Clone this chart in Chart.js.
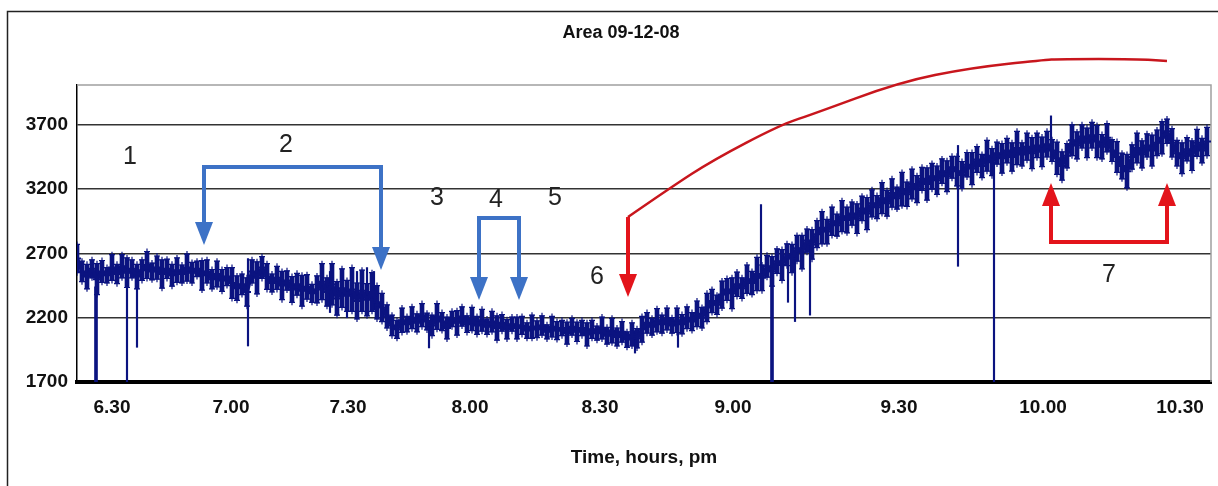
<!DOCTYPE html>
<html>
<head>
<meta charset="utf-8">
<script src="https://cdn.jsdelivr.net/npm/chart.js@4"></script>
<style>
  body { margin: 0; background: #fff; }
</style>
</head>
<body>
<canvas id="areaChart" width="1218" height="486"></canvas>
<script>
// readings are logged samples, one every 5 samples kept here
const step = 5;
const area = [
  2660,2560,2520,2580,2500,2560,2530,2590,2540,2600,2550,2580,2520,2570,2610,2560,2590,2540,2580,2530,
  2570,2540,2590,2550,2580,2530,2560,2500,2540,2490,2520,2470,2430,2460,2400,2560,2510,2590,2520,2470,
  2510,2450,2490,2420,2460,2410,2440,2390,2420,2480,2400,2460,2350,2430,2370,2420,2330,2410,2340,2400,
  2320,2280,2210,2140,2110,2180,2150,2200,2160,2220,2170,2140,2210,2170,2120,2190,2160,2210,2150,2190,
  2140,2180,2130,2170,2120,2160,2110,2150,2120,2140,2100,2130,2110,2140,2090,2130,2100,2120,2080,2130,
  2090,2120,2070,2110,2080,2120,2060,2100,2050,2090,2030,2070,2040,2110,2160,2130,2180,2150,2190,2140,
  2180,2150,2200,2170,2230,2200,2280,2330,2300,2380,2420,2390,2460,2430,2500,2470,2540,2510,2600,2560,
  2640,2610,2690,2660,2740,2710,2800,2770,2850,2900,2870,2950,2920,2990,2960,3010,2970,3050,3010,3090,
  3060,3130,3090,3170,3130,3200,3160,3240,3200,3280,3240,3300,3270,3340,3300,3370,3340,3310,3390,3360,
  3430,3380,3460,3410,3480,3440,3500,3450,3520,3470,3530,3480,3540,3490,3550,3500,3440,3380,3460,3580,
  3540,3610,3560,3620,3570,3530,3600,3500,3450,3380,3340,3450,3520,3470,3540,3500,3560,3600,3650,3560,
  3480,3440,3510,3460,3560,3500,3570
];
// size of the error bar drawn on each reading
const areaErr = [
  110,80,95,70,120,85,60,100,75,90,115,70,95,80,105,65,90,110,75,85,
  95,70,105,80,60,115,90,75,100,85,70,120,95,80,110,90,125,85,100,70,
  90,110,75,100,85,120,95,70,105,140,110,160,130,150,120,170,140,160,125,150,
  130,110,90,80,70,95,60,85,70,90,65,80,100,70,85,60,95,75,65,90,
  70,85,60,80,95,65,75,55,85,70,60,90,65,75,55,80,70,60,85,65,
  75,60,90,70,55,85,65,95,70,80,60,90,75,100,80,65,90,70,85,60,
  95,75,85,70,100,80,110,90,75,105,85,120,95,80,110,90,130,100,85,115,
  95,120,85,110,100,130,90,115,105,125,95,110,85,120,100,90,115,95,125,105,
  90,120,100,110,85,130,95,115,105,90,125,100,110,95,120,85,115,105,95,125,
  100,90,120,105,85,115,95,110,130,90,105,120,95,115,100,85,125,110,95,120,
  105,90,115,100,125,95,110,85,120,100,130,95,115,105,90,120,100,125,95,110,
  100,120,90,115,105,95,110
];

// long error bars / dropouts: sample, low, high
const spikeAt   = [50, 60, 171, 253, 265, 270, 280, 290, 297, 352, 558, 601, 684, 711, 718, 733, 881, 917, 974];
const spikeLow  = [1700,1970,1980,2240,2280,2200,2230,2250,2260,1965,1925,1970,2500,2320,2170,2220,2600,1700,3500];
const spikeHigh = [2500,2500,2660,2560,2580,2460,2560,2590,2560,2180,2100,2180,3080,2700,2700,2800,3540,3400,3770];
const dropAt   = [19, 695];
const dropLow  = [1700, 1700];
const dropHigh = [2440, 2600];

const yTicks = [1700, 2200, 2700, 3200, 3700];
const xTickAt = [35, 154, 271, 393, 523, 656, 822, 966, 1103];
const xTickLabels = ["6.30", "7.00", "7.30", "8.00", "8.30", "9.00", "9.30", "10.00", "10.30"];

// hand drawn notes on top of the plot (sample, value)
const notes = [
  ["1", 53, 3450], ["2", 209, 3543], ["3", 360, 3131], ["4", 419, 3115],
  ["5", 478, 3131], ["6", 520, 2516], ["7", 1032, 2532]
];
const redCurveX = [551, 593, 636, 703, 733, 823, 893, 966, 983, 1060, 1090];
const redCurveY = [2983, 3209, 3426, 3698, 3776, 4033, 4142, 4204, 4212, 4212, 4196];

const navy = "#0b1380";
const blue = "#3d72c6";
const red = "#e3141b";
const font = "'Liberation Sans', Arial, sans-serif";

function arrowHead(ctx, x, tipY, dir, color) {
  // dir = 1 points down, -1 points up
  ctx.fillStyle = color;
  ctx.beginPath();
  ctx.moveTo(x, tipY);
  ctx.lineTo(x - 9, tipY - dir * 23);
  ctx.lineTo(x + 9, tipY - dir * 23);
  ctx.closePath();
  ctx.fill();
}

const drawings = {
  id: "drawings",
  beforeDatasetsDraw(chart) {
    const { ctx, chartArea: a } = chart;
    ctx.save();
    ctx.strokeStyle = "#a0a0a0";
    ctx.lineWidth = 1.5;
    ctx.beginPath();
    ctx.moveTo(a.left, a.top);
    ctx.lineTo(a.right, a.top);
    ctx.lineTo(a.right, a.bottom);
    ctx.stroke();
    ctx.restore();
  },
  afterDraw(chart) {
    const { ctx } = chart;
    const x = chart.scales.x, y = chart.scales.y;
    const px = v => x.getPixelForValue(v);
    const py = v => y.getPixelForValue(v);
    ctx.save();

    // outer frame
    ctx.strokeStyle = "#222";
    ctx.lineWidth = 1.5;
    ctx.beginPath();
    ctx.moveTo(7.5, 486);
    ctx.lineTo(7.5, 11.5);
    ctx.lineTo(1218, 11.5);
    ctx.stroke();

    // title
    ctx.fillStyle = "#111";
    ctx.font = "bold 18px " + font;
    ctx.textAlign = "center";
    ctx.textBaseline = "middle";
    ctx.fillText("Area 09-12-08", 621, 33);

    ctx.lineWidth = 4;
    ctx.lineJoin = "miter";

    // bracket 2
    ctx.strokeStyle = blue;
    let l = px(127), r = px(304), top = py(3372);
    ctx.beginPath();
    ctx.moveTo(l, py(2765) - 20); ctx.lineTo(l, top); ctx.lineTo(r, top); ctx.lineTo(r, py(2571) - 20);
    ctx.stroke();
    arrowHead(ctx, l, py(2765), 1, blue);
    arrowHead(ctx, r, py(2571), 1, blue);

    // bracket 4
    l = px(402); r = px(442); top = py(2975);
    ctx.beginPath();
    ctx.moveTo(l, py(2338) - 20); ctx.lineTo(l, top); ctx.lineTo(r, top); ctx.lineTo(r, py(2338) - 20);
    ctx.stroke();
    arrowHead(ctx, l, py(2338), 1, blue);
    arrowHead(ctx, r, py(2338), 1, blue);

    // red arrow 6 and its curve
    ctx.strokeStyle = red;
    const cx = px(551);
    ctx.beginPath();
    ctx.moveTo(cx, py(2361) - 20); ctx.lineTo(cx, py(redCurveY[0]));
    ctx.stroke();
    arrowHead(ctx, cx, py(2361), 1, red);
    ctx.strokeStyle = "#c8161d";
    ctx.lineWidth = 2.5;
    ctx.beginPath();
    ctx.moveTo(px(redCurveX[0]), py(redCurveY[0]));
    for (let i = 1; i < redCurveX.length - 1; i++) {
      const mx = (px(redCurveX[i]) + px(redCurveX[i + 1])) / 2;
      const my = (py(redCurveY[i]) + py(redCurveY[i + 1])) / 2;
      ctx.quadraticCurveTo(px(redCurveX[i]), py(redCurveY[i]), mx, my);
    }
    const last = redCurveX.length - 1;
    ctx.lineTo(px(redCurveX[last]), py(redCurveY[last]));
    ctx.stroke();

    // bracket 7
    ctx.strokeStyle = red;
    ctx.lineWidth = 4;
    l = px(974); r = px(1090);
    const bottom = py(2789);
    ctx.beginPath();
    ctx.moveTo(l, py(3247) + 20); ctx.lineTo(l, bottom); ctx.lineTo(r, bottom); ctx.lineTo(r, py(3247) + 20);
    ctx.stroke();
    arrowHead(ctx, l, py(3247), -1, red);
    arrowHead(ctx, r, py(3247), -1, red);

    // numbers
    ctx.fillStyle = "#222";
    ctx.font = "25px " + font;
    notes.forEach(n => ctx.fillText(n[0], px(n[1]), py(n[2])));
    ctx.restore();
  }
};

const capStyle = {
  type: "line",
  showLine: false,
  pointStyle: "cross",
  pointRadius: 3,
  pointBorderColor: navy,
  pointBorderWidth: 1.2
};

new Chart(document.getElementById("areaChart"), {
  type: "line",
  data: {
    datasets: [
      {
        label: "Area",
        data: area.map((v, i) => ({ x: i * step, y: v })),
        borderColor: navy,
        borderWidth: 4,
        pointStyle: "cross",
        pointRadius: 4,
        pointBorderColor: navy,
        pointBorderWidth: 2,
        tension: 0
      },
      {
        type: "bar",
        label: "error",
        data: area.map((v, i) => ({ x: i * step, y: [v - areaErr[i], v + areaErr[i]] })),
        backgroundColor: navy,
        barThickness: 4,
        grouped: false
      },
      Object.assign({ label: "error top", data: area.map((v, i) => ({ x: i * step, y: v + areaErr[i] })) }, capStyle),
      Object.assign({ label: "error bottom", data: area.map((v, i) => ({ x: i * step, y: v - areaErr[i] })) }, capStyle),
      {
        type: "bar",
        label: "long errors",
        data: spikeAt.map((s, i) => ({ x: s, y: [spikeLow[i], spikeHigh[i]] })),
        backgroundColor: navy,
        barThickness: 1.5,
        grouped: false
      },
      {
        type: "bar",
        label: "dropouts",
        data: dropAt.map((s, i) => ({ x: s, y: [dropLow[i], dropHigh[i]] })),
        backgroundColor: navy,
        barThickness: 3,
        grouped: false
      }
    ]
  },
  options: {
    responsive: false,
    animation: false,
    layout: { padding: { top: 85, right: 7, left: 0, bottom: 0 } },
    plugins: { legend: { display: false }, tooltip: { enabled: false } },
    scales: {
      x: {
        type: "linear",
        min: 0,
        max: 1134,
        offset: false,
        afterFit: s => { s.height = 104; },
        afterBuildTicks: s => { s.ticks = xTickAt.map(v => ({ value: v })); },
        ticks: {
          autoSkip: false,
          maxRotation: 0,
          padding: 14,
          color: "#111",
          font: { family: font, size: 19, weight: "bold" },
          callback: v => xTickLabels[xTickAt.indexOf(v)]
        },
        grid: { display: false, drawTicks: false },
        border: { color: "#000", width: 4 },
        title: {
          display: true,
          text: "Time, hours, pm",
          color: "#111",
          font: { family: font, size: 19, weight: "bold" },
          padding: { top: 0, bottom: 17 }
        }
      },
      y: {
        min: 1700,
        max: 4010,
        afterFit: s => { s.width = 77; },
        afterBuildTicks: s => { s.ticks = yTicks.map(v => ({ value: v })); },
        ticks: {
          padding: 9,
          color: "#111",
          font: { family: font, size: 19, weight: "bold" },
          callback: v => String(v)
        },
        grid: { color: "#333", lineWidth: 1.5, drawTicks: false },
        border: { color: "#000", width: 1.5 }
      }
    }
  },
  plugins: [drawings]
});
</script>
</body>
</html>
